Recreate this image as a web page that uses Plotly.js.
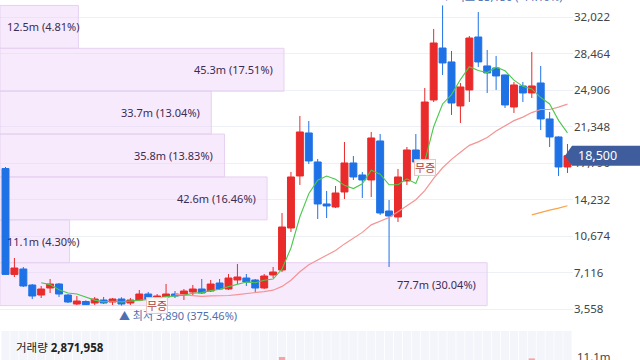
<!DOCTYPE html>
<html><head><meta charset="utf-8">
<script src="https://cdn.plot.ly/plotly-3.0.1.min.js"></script>
<style>html,body{margin:0;padding:0;background:#fff;overflow:hidden}#chart{width:640px;height:360px}</style>
</head><body><div id="chart"></div>
<script>
// ---- data ----
const openP = [17250,6930,7458,5898,4923,5605,5995,4923,4045,4289,4143,4435,4240,4533,4143,4435,5020,4533,4728,5020,4923,5215,5508,5313,6093,5508,6385,6580,6385,5605,6873,7360,11455,16525,20718,17890,13795,13502,14965,17793,16623,16135,19938,13112,12527,16037,19060,18083,23932,29000,27640,23350,24908,30073,27250,27055,26372,23250,25298,24615,25590,22083,20328,17403];
const highP = [17400,8530,7650,5995,5800,6480,6090,5020,4825,4400,4730,4730,4630,4700,4630,5410,5215,5020,6000,5313,5508,5900,6483,6385,6483,6970,7945,6970,6483,6970,7653,12917,16915,22375,21888,18183,15063,15550,19840,18475,16915,20815,20620,14185,17208,19353,20620,25100,30853,33150,28713,25590,30170,32510,28810,28225,26400,25688,25688,28615,27250,22765,20400,19645];
const lowP = [6900,6680,5700,4530,4630,5120,4730,4140,3950,3950,3950,4045,3950,3890,3950,4338,4240,4240,4435,4630,4435,4923,5020,5215,5410,5410,5995,5800,5118,5508,6580,7165,11065,15648,17695,12332,12430,13400,14282,16135,14380,14477,12722,7653,12040,15648,17793,17700,23736,26372,22473,21693,23737,27153,24615,24908,23152,22667,23737,24128,21010,19353,16525,16818];
const closeP = [6930,7555,5800,4825,5508,5995,5020,4240,4338,3990,4533,4143,4533,4045,4435,5020,4533,4825,5020,4825,5313,5508,5118,5995,5508,6580,6678,6190,5605,6775,7165,11552,16427,20815,17988,13795,13600,14867,17793,16428,16135,20230,12917,12625,16428,19060,17890,23736,29488,27542,23640,25200,29975,27640,26567,26275,23447,25395,24615,25298,22083,20328,17403,18500];
// volume in millions (only the tallest bars are visible in the reference)
const volumeM = [8.2,3.1,4.0,3.3,2.6,2.9,2.2,1.8,1.5,1.3,1.4,1.1,1.0,1.2,0.9,1.6,1.2,1.0,1.9,1.1,1.3,1.5,1.4,1.6,1.2,2.1,3.0,1.8,1.6,2.2,2.5,11.1,9.2,8.6,7.9,6.8,4.1,3.5,5.2,3.9,2.8,5.6,7.3,6.1,5.4,5.0,3.8,7.6,9.3,8.8,6.4,4.9,7.1,5.8,3.6,3.2,3.9,3.4,2.5,10.4,6.2,4.5,4.8,2.871958];
const ma5 = [null,null,null,null,6124,5937,5430,5118,5020,4717,4424,4249,4307,4249,4338,4435,4513,4572,4767,4845,4903,5098,5157,5352,5488,5742,5976,6190,6112,6366,6483,7457,9505,12547,14789,16115,16525,16213,15609,15297,15765,17091,16701,15667,15667,16252,15784,17948,21320,23543,24459,25921,27169,26799,26604,27131,26781,25865,25260,25006,24168,23544,21945,20722];
const ma20 = [null,null,null,null,null,null,null,null,null,null,null,null,null,null,null,null,null,null,null,5006,4925,4822,4788,4847,4847,4876,4959,5057,5120,5259,5391,5761,6356,7194,7872,8311,8764,9266,9905,10485,11026,11762,12152,12484,13030,13654,14214,15092,16286,17324,18148,18830,19508,19849,20278,20902,21394,21921,22262,22705,23003,23007,23232,23526];
const ma60 = [null,null,null,null,null,null,null,null,null,null,null,null,null,null,null,null,null,null,null,null,null,null,null,null,null,null,null,null,null,null,null,null,null,null,null,null,null,null,null,null,null,null,null,null,null,null,null,null,null,null,null,null,null,null,null,null,null,null,null,12732,12984,13197,13391,13619];
const priceTicks = [3558,7116,10674,14232,17790,21348,24906,28464,32022];
const volTicks = [11.1];
const volTickText = ['11.1m'];
// volume profile (bottom band to top band)
const profileVol = [77.7,11.1,42.6,35.8,33.7,45.3,12.5];
const profilePct = [30.04,4.30,16.46,13.83,13.04,17.51,4.81];
const rangeLow = 3890, rangeHigh = 33150;
const highLabel = '▼ 최고 33,150 (-44.19%)';
const lowLabel = '▲ 최저 3,890 (375.46%)';
const eventIdx = [17,47];
const eventText = ['무증','무증'];
const volTitle = '거래량';

// ---- build ----
const FONT = '"Noto Sans", "Noto Sans CJK KR", sans-serif';
const N = closeP.length;
const idx = closeP.map((_, i) => i);
const hiIdx = highP.indexOf(Math.max(...highP));
const loIdx = lowP.indexOf(Math.min(...lowP));
const bandH = (rangeHigh - rangeLow) / profileVol.length;
const bandC = profileVol.map((_, k) => rangeLow + bandH * (k + 0.5));
const profLabels = profileVol.map((v, k) => v.toFixed(1) + 'm (' + profilePct[k].toFixed(2) + '%)');

const Y0 = 2291, Y1 = 33679, D0 = 38/360;
const XR = [-0.617, 63.62];
const VD1 = 29/360;
const VR = [9.6, 24];
const py = p => D0 + (p - Y0) / (Y1 - Y0) * (1 - D0);
const pv = v => (v - VR[0]) / (VR[1] - VR[0]) * VD1;
const fmt = n => Math.round(n).toLocaleString('en-US');
const hiddenX = {showticklabels:false, ticks:'', showgrid:false, zeroline:false, showline:false, fixedrange:true,
  rangeslider:{visible:false}};

const traces = [
  {type:'bar', orientation:'h', x: profileVol, y: bandC, width: bandH, xaxis:'x', yaxis:'y',
   marker:{color:'rgba(236,205,248,0.42)', line:{color:'#e6d1f0', width:1}}, hoverinfo:'skip'},
  {type:'candlestick', x: idx, open: openP, high: highP, low: lowP, close: closeP, xaxis:'x2', yaxis:'y',
   whiskerwidth: 0,
   increasing:{line:{color:'#ea2b2b', width:1}, fillcolor:'#ea2b2b'},
   decreasing:{line:{color:'#1f72e6', width:1}, fillcolor:'#1f72e6'}},
  {type:'scatter', mode:'lines', x: idx, y: ma20, xaxis:'x2', yaxis:'y', line:{color:'#f59494', width:1.2}},
  {type:'scatter', mode:'lines', x: idx, y: ma60, xaxis:'x2', yaxis:'y', line:{color:'#f7a44a', width:1.2}},
  {type:'scatter', mode:'lines', x: idx, y: ma5, xaxis:'x2', yaxis:'y', line:{color:'#4cc84c', width:1.1}},
  {type:'bar', x: idx, y: volumeM, xaxis:'x3', yaxis:'y2', width: 0.7,
   marker:{color: idx.map(i => closeP[i] >= openP[i] ? '#f4a6a6' : '#a6c6f2')}}
];

const W = 573;
const shapes = idx.map(i => ({type:'rect', xref:'paper', yref:'paper',
  x0:(5.5 + (i - 0.46) * 8.92) / W, x1:(5.5 + (i + 0.46) * 8.92) / W, y0:0, y1:VD1,
  fillcolor:'#f3f5fa', line:{width:0}, layer:'below'}));

// current price tag
const last = closeP[N-1];
const hh = 10 / 360;
const cy = py(last);
const xt = 565/W, xb = 572/W, xr = 642/W;
shapes.push({type:'path', xref:'paper', yref:'paper', layer:'above',
  path:`M ${xt} ${cy} L ${xb} ${cy+hh} L ${xr} ${cy+hh} L ${xr} ${cy-hh} L ${xb} ${cy-hh} Z`,
  fillcolor:'#3f5c9c', line:{width:0}});

const annotations = [];
profileVol.forEach((v, k) => {
  const small = v < 20;
  annotations.push({xref:'x', yref:'y', x: small ? 0 : v, y: bandC[k], text: profLabels[k],
    xanchor: small ? 'left' : 'right', xshift: small ? 5 : -9, showarrow:false,
    font:{family:FONT, size:11, color:'#3b2c52'}});
});
annotations.push({xref:'x2', yref:'y', x: hiIdx, y: highP[hiIdx], text: highLabel, xanchor:'left', yanchor:'bottom',
  xshift:-4, yshift:-1, showarrow:false, font:{family:FONT, size:11, color:'#4e6fb2'}});
annotations.push({xref:'x2', yref:'y', x: loIdx, y: lowP[loIdx], text: lowLabel, xanchor:'left', yanchor:'top',
  xshift:-4, yshift:0, showarrow:false, font:{family:FONT, size:11, color:'#4e6fb2'}});
eventIdx.forEach((e, k) => {
  annotations.push({xref:'x2', yref:'y', x: e, y: lowP[e], text: eventText[k], yanchor:'top', showarrow:false,
    yshift: 5,
    bgcolor:'rgba(255,250,250,0.92)', bordercolor:'#f0c2c2', borderwidth:1, borderpad:0,
    font:{family:FONT, size:11, color:'#a8463f'}});
});
annotations.push({xref:'paper', yref:'paper', x: 576/W, y: cy, text: fmt(last), xanchor:'left', yanchor:'middle',
  showarrow:false, font:{family:FONT, size:12.5, color:'#ffffff'}});
annotations.push({xref:'paper', yref:'paper', x: 14/W, y: 1 - 347/360, text: volTitle + ' <b>' + fmt(volumeM[N-1]*1e6) + '</b>',
  xanchor:'left', yanchor:'middle', showarrow:false, font:{family:FONT, size:11.5, color:'#222'}});
volTicks.forEach((t, k) => {
  annotations.push({xref:'paper', yref:'paper', x: 575/W, y: pv(t), text: volTickText[k], xanchor:'left', yanchor:'middle',
    showarrow:false, font:{family:FONT, size:11.5, color:'#444'}});
});

const layout = {
  width:640, height:360, margin:{l:0, r:67, t:0, b:0, pad:0},
  paper_bgcolor:'#ffffff', plot_bgcolor:'rgba(0,0,0,0)', showlegend:false,
  boxgap:0.22, boxgroupgap:0,
  xaxis:Object.assign({range:[0, 91.4]}, hiddenX),
  xaxis2:Object.assign({overlaying:'x', range:XR}, hiddenX),
  xaxis3:Object.assign({anchor:'y2', range:XR}, hiddenX),
  yaxis:{domain:[D0,1], range:[Y0,Y1], side:'right', tickvals:priceTicks, tickformat:',d', ticks:'',
    fixedrange:true,
    showgrid:true, gridcolor:'#edf0f5', gridwidth:1, zeroline:false, showline:false,
    tickfont:{family:FONT, size:11.5, color:'#444'}},
  yaxis2:{domain:[0,VD1], anchor:'x3', range:VR, side:'right', showticklabels:false,
    fixedrange:true, ticks:'', showgrid:false, zeroline:false, showline:false},
  shapes, annotations
};
Plotly.newPlot('chart', traces, layout, {staticPlot:true, displayModeBar:false});
</script></body></html>
